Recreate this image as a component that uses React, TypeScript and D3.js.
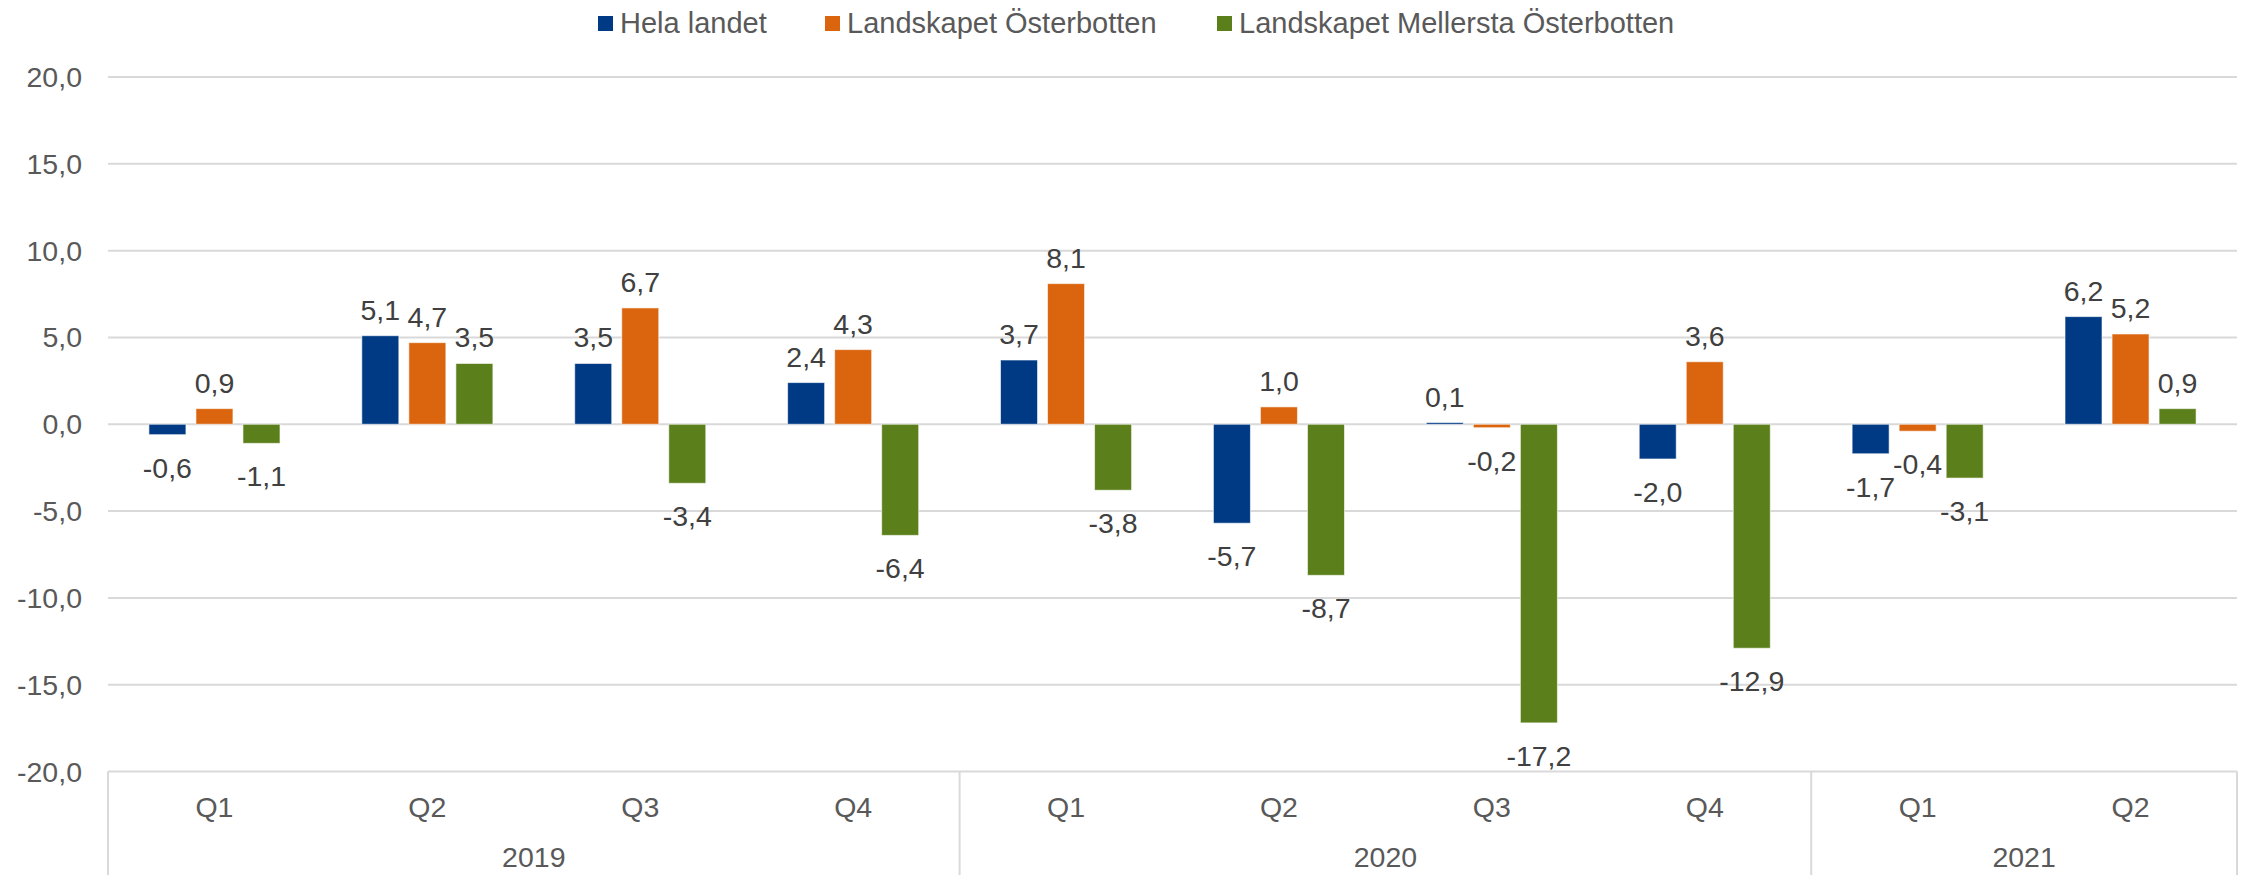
import React from "react";
import * as d3 from "d3";

const quarters = ["Q1", "Q2", "Q3", "Q4", "Q1", "Q2", "Q3", "Q4", "Q1", "Q2"];
const years = ["2019", "2020", "2021"];
const yearSpans = [4, 4, 2];
const seriesNames = ["Hela landet", "Landskapet Österbotten", "Landskapet Mellersta Österbotten"];
const helaLandet = [-0.6, 5.1, 3.5, 2.4, 3.7, -5.7, 0.1, -2.0, -1.7, 6.2];
const osterbotten = [0.9, 4.7, 6.7, 4.3, 8.1, 1.0, -0.2, 3.6, -0.4, 5.2];
const mellersta = [-1.1, 3.5, -3.4, -6.4, -3.8, -8.7, -17.2, -12.9, -3.1, 0.9];
const yTicks = [20, 15, 10, 5, 0, -5, -10, -15, -20];
const colors = ["#003A84", "#DA650E", "#5B7F1A"];

const W = 2247;
const H = 875;
const left = 108;
const right = 2237;
const top = 77;
const bottom = 771.5;
const FONT = "'Liberation Sans', Arial, sans-serif";

const locale = d3.formatLocale({ decimal: ",", thousands: " ", grouping: [3], currency: ["", ""], minus: "-" });
const fmt = locale.format(".1f");

export default function App() {
  const series = [helaLandet, osterbotten, mellersta];
  const idx = quarters.map((_, i) => i);
  const x0 = d3.scaleBand<number>().domain(idx).range([left, right]).paddingInner(0).paddingOuter(0);
  const x1 = d3
    .scaleBand<number>()
    .domain([0, 1, 2])
    .range([0, x0.bandwidth()])
    .paddingInner(0.213)
    .paddingOuter(0.87);
  const y = d3.scaleLinear().domain([-20, 20]).range([bottom, top]);

  const legendX = [598, 825, 1217];

  let acc = 0;
  const yearBounds = yearSpans.map((s) => {
    const start = acc;
    acc += s;
    return { start, end: acc };
  });

  return (
    <svg
      width={W}
      height={H}
      style={{ position: "absolute", left: 0, top: 0, background: "#fff" }}
      fontFamily={FONT}
    >
      {yTicks.map((t) => (
        <g key={t}>
          <line x1={left} x2={right} y1={y(t)} y2={y(t)} stroke="#D9D9D9" strokeWidth={2} />
          <text x={82} y={y(t) + 10} textAnchor="end" fontSize={28.5} fill="#595959">
            {fmt(t)}
          </text>
        </g>
      ))}

      {series.map((vals, si) =>
        vals.map((v, i) => {
          const bx = (x0(i) as number) + (x1(si) as number);
          const y0 = y(0);
          const yv = y(v);
          return (
            <rect
              key={`b${si}-${i}`}
              x={bx}
              y={Math.min(y0, yv)}
              width={x1.bandwidth()}
              height={Math.abs(yv - y0)}
              fill={colors[si]}
              stroke="#ffffff"
              strokeOpacity={0.6}
              strokeWidth={1}
            />
          );
        })
      )}

      {series.map((vals, si) =>
        vals.map((v, i) => {
          const cx = (x0(i) as number) + (x1(si) as number) + x1.bandwidth() / 2;
          const ly = v >= 0 ? y(v) - 16 : y(v) + 43;
          return (
            <text key={`l${si}-${i}`} x={cx} y={ly} textAnchor="middle" fontSize={28.5} fill="#404040">
              {fmt(v)}
            </text>
          );
        })
      )}

      {quarters.map((q, i) => (
        <text
          key={`q${i}`}
          x={(x0(i) as number) + x0.bandwidth() / 2}
          y={817}
          textAnchor="middle"
          fontSize={28.5}
          fill="#595959"
        >
          {q}
        </text>
      ))}
      {yearBounds.map((b, i) => {
        const xs = x0(b.start) as number;
        const xe = b.end >= quarters.length ? right : (x0(b.end) as number);
        return (
          <text key={`y${i}`} x={(xs + xe) / 2} y={867} textAnchor="middle" fontSize={28.5} fill="#595959">
            {years[i]}
          </text>
        );
      })}
      {[0, ...yearBounds.map((b) => b.end)].map((k) => {
        const xx = k >= quarters.length ? right : (x0(k) as number);
        return <line key={`s${k}`} x1={xx} x2={xx} y1={bottom} y2={H} stroke="#D9D9D9" strokeWidth={2} />;
      })}

      {seriesNames.map((n, i) => (
        <g key={`lg${i}`}>
          <rect x={legendX[i]} y={16} width={15} height={15} fill={colors[i]} />
          <text x={legendX[i] + 22} y={33} fontSize={29} fill="#595959">
            {n}
          </text>
        </g>
      ))}
    </svg>
  );
}
